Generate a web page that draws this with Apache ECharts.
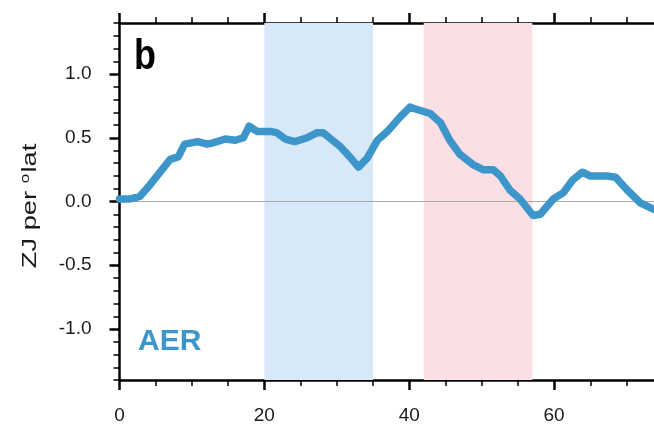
<!DOCTYPE html>
<html>
<head>
<meta charset="utf-8">
<script src="https://cdn.jsdelivr.net/npm/echarts@6/dist/echarts.min.js"></script>
<style>html,body{margin:0;padding:0;background:#fff}#c{width:654px;height:425px}</style>
</head>
<body>
<div id="c"></div>
<script>
// Data
const xVals = [0, 1.5, 2.8, 4.2, 5.6, 7.0, 8.1, 9.0, 10.8, 12.1, 12.9, 14.6, 16.0, 17.1, 17.9, 19.0, 20.8, 21.7, 22.9, 24.2, 25.9, 27.3, 28.1, 30.5, 31.8, 33.0, 34.2, 35.6, 37.0, 38.7, 40.1, 41.2, 42.9, 44.3, 45.6, 47.0, 48.8, 50.2, 51.6, 52.6, 53.9, 55.3, 57.1, 58.1, 59.9, 61.3, 62.6, 63.9, 65.0, 67.3, 68.5, 70.1, 71.9, 73.7, 75];
const aerVals = [0.02, 0.02, 0.04, 0.13, 0.23, 0.33, 0.35, 0.45, 0.47, 0.45, 0.46, 0.49, 0.48, 0.50, 0.59, 0.55, 0.55, 0.54, 0.49, 0.47, 0.50, 0.54, 0.54, 0.43, 0.35, 0.27, 0.34, 0.48, 0.55, 0.66, 0.74, 0.72, 0.69, 0.62, 0.48, 0.37, 0.29, 0.25, 0.25, 0.20, 0.09, 0.02, -0.11, -0.10, 0.02, 0.07, 0.17, 0.23, 0.20, 0.20, 0.19, 0.09, -0.01, -0.06, -0.08];
const bandRanges = [[20, 35], [42, 57]];
const bandColors = ['#d7e9f8', '#fadfe5'];
const xMajorTicks = [0, 20, 40, 60];
const xMinorTicks = [5, 10, 15, 25, 30, 35, 45, 50, 55, 65, 70];
const yMajorTicks = [-1.0, -0.5, 0.0, 0.5, 1.0];
const yMinorTicks = [-1.4, -1.3, -1.2, -1.1, -0.9, -0.8, -0.7, -0.6, -0.4, -0.3, -0.2, -0.1, 0.1, 0.2, 0.3, 0.4, 0.6, 0.7, 0.8, 0.9, 1.1, 1.2, 1.3, 1.4];
const yNameParts = ['ZJ per ', 'o', 'lat'];
const panelLabel = 'b';
const seriesLabel = 'AER';

const X_MIN = 0, X_MAX = 73.8, Y_MIN = -1.4, Y_MAX = 1.4;
const FONT = '"Liberation Sans", Arial, Helvetica, sans-serif';
const TXT = '#1a1a1a';

function xAx(pos, ticks, len, showLine, showLabel) {
  return {
    type: 'value', position: pos, min: X_MIN, max: X_MAX,
    axisLine: { show: showLine, onZero: false, lineStyle: { color: '#000', width: 2.5 } },
    axisTick: { show: true, inside: false, length: len, customValues: ticks, lineStyle: { color: '#000', width: len > 8 ? 2.5 : 1.5 } },
    axisLabel: { show: showLabel, customValues: ticks, color: TXT, fontSize: 19, fontFamily: FONT, margin: 26 },
    splitLine: { show: false }
  };
}
function yAx(ticks, len, showLine, showLabel) {
  return {
    type: 'value', position: 'left', min: Y_MIN, max: Y_MAX,
    axisLine: { show: showLine, onZero: false, lineStyle: { color: '#000', width: 2.5 } },
    axisTick: { show: true, inside: false, length: len, customValues: ticks, lineStyle: { color: '#000', width: len > 8 ? 2.5 : 1.5 } },
    axisLabel: { show: showLabel, customValues: ticks, color: TXT, fontSize: 19, fontFamily: FONT, margin: 28,
      formatter: v => v.toFixed(1) },
    splitLine: { show: false }
  };
}

const chart = echarts.init(document.getElementById('c'), null, { renderer: 'canvas' });
chart.setOption({
  animation: false,
  backgroundColor: '#fff',
  grid: { left: 119.5, right: 0, top: 23, bottom: 44, containLabel: false },
  xAxis: [
    xAx('bottom', xMajorTicks, 10, true, true),
    xAx('bottom', xMinorTicks, 6, false, false),
    xAx('top', xMajorTicks, 10, true, false),
    xAx('top', xMinorTicks, 6, false, false)
  ],
  yAxis: [
    yAx(yMajorTicks, 10, true, true),
    yAx(yMinorTicks, 6, false, false)
  ],
  graphic: [
    { type: 'text', x: 30, y: 206, rotation: Math.PI / 2, scaleX: 1.3, z: 10,
      style: {
        text: '{n|' + yNameParts[0] + '}{s|' + yNameParts[1] + '}{n|' + yNameParts[2] + '}',
        align: 'center', verticalAlign: 'middle',
        rich: {
          n: { fontSize: 21, fontFamily: FONT, fill: TXT, color: TXT },
          s: { fontSize: 13, fontFamily: FONT, fill: TXT, color: TXT, verticalAlign: 'top', padding: [0, 1, 10, 0] }
        }
      } },
    { type: 'text', x: 134, y: 35, scaleY: 1.2, z: 10,
      style: { text: panelLabel, fontSize: 36, fontWeight: 'bold', fontFamily: FONT, fill: '#000', verticalAlign: 'top' } },
    { type: 'text', x: 138, y: 327, z: 10,
      style: { text: seriesLabel, fontSize: 30, fontWeight: 'bold', fontFamily: FONT, fill: '#3d96ca', verticalAlign: 'top' } }
  ],
  series: [
    {
      type: 'line', data: [], xAxisIndex: 0, yAxisIndex: 0, z: 1,
      markArea: {
        silent: true,
        data: bandRanges.map((r, i) => [{ xAxis: r[0], itemStyle: { color: bandColors[i] } }, { xAxis: r[1] }])
      },
      markLine: {
        silent: true, symbol: 'none', label: { show: false },
        lineStyle: { color: '#aaaaaa', width: 1.2, type: 'solid' },
        data: [{ yAxis: 0 }]
      }
    },
    {
      type: 'line', xAxisIndex: 0, yAxisIndex: 0, z: 5,
      data: xVals.map((x, i) => [x, aerVals[i]]),
      showSymbol: false, clip: true,
      lineStyle: { color: '#3d96ca', width: 7.5, cap: 'round', join: 'round' }
    }
  ]
});
</script>
</body>
</html>
